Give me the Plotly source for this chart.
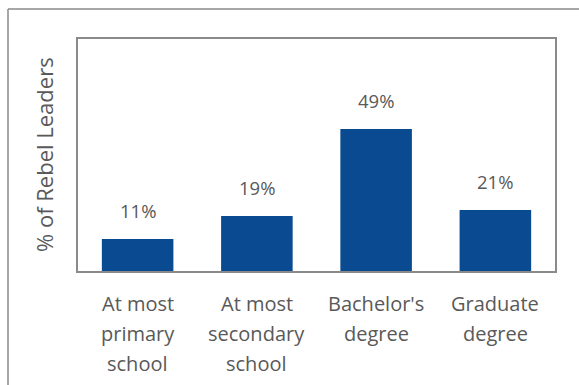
import plotly.graph_objects as go

categories = ["At most<br>primary<br>school", "At most<br>secondary<br>school", "Bachelor's<br>degree", "Graduate<br>degree"]
values = [11, 19, 49, 21]
value_labels = ["11%", "19%", "49%", "21%"]
y_title = "% of Rebel Leaders"

BAR = "#0A4A90"
TXT = "#595959"
FONT = "Open Sans"

fig = go.Figure(go.Bar(x=categories, y=values, marker=dict(color=BAR, line=dict(width=0)), width=0.6,
                       hoverinfo="skip"))

ann = []
for c, v, lab in zip(categories, values, value_labels):
    ann.append(dict(x=c, y=v, xref="x", yref="y", text=lab, showarrow=False, yanchor="bottom",
                    yshift=14, font=dict(family=FONT, size=18.5, color=TXT)))
    for i, line in enumerate(c.split("<br>")):
        ann.append(dict(x=c, y=0, xref="x", yref="paper", text=line, showarrow=False, yanchor="middle",
                        yshift=-(32 + 30 * i), font=dict(family=FONT, size=20, color=TXT)))
ann.append(dict(x=0, y=0.5, xref="paper", yref="paper", text=y_title, showarrow=False, textangle=-90,
                xanchor="center", yanchor="middle", xshift=-34,
                font=dict(family=FONT, size=22, color=TXT)))

fig.update_layout(
    width=579, height=385,
    margin=dict(l=78, r=24, t=39, b=114),
    paper_bgcolor="white", plot_bgcolor="white",
    showlegend=False,
    annotations=ann,
    bargap=0.4,
    shapes=[
        dict(type="line", xref="paper", yref="paper", x0=-70/477, x1=1 + 30/477, y0=262/232, y1=262/232,
             line=dict(color="#8a8a8a", width=1.5)),
        dict(type="line", xref="paper", yref="paper", x0=-70/477, x1=-70/477, y0=262/232, y1=-120/232,
             line=dict(color="#8a8a8a", width=1.5)),
    ],
    xaxis=dict(showticklabels=False, showline=True, mirror=True, linecolor="#8a8a8a", linewidth=1.5,
               ticks="", showgrid=False, zeroline=False, fixedrange=True),
    yaxis=dict(range=[0, 80], showticklabels=False, showline=True, mirror=True, linecolor="#8a8a8a",
               linewidth=1.5, ticks="", showgrid=False, zeroline=False, fixedrange=True),
)

fig.write_html("out.html", config={"displayModeBar": False})
